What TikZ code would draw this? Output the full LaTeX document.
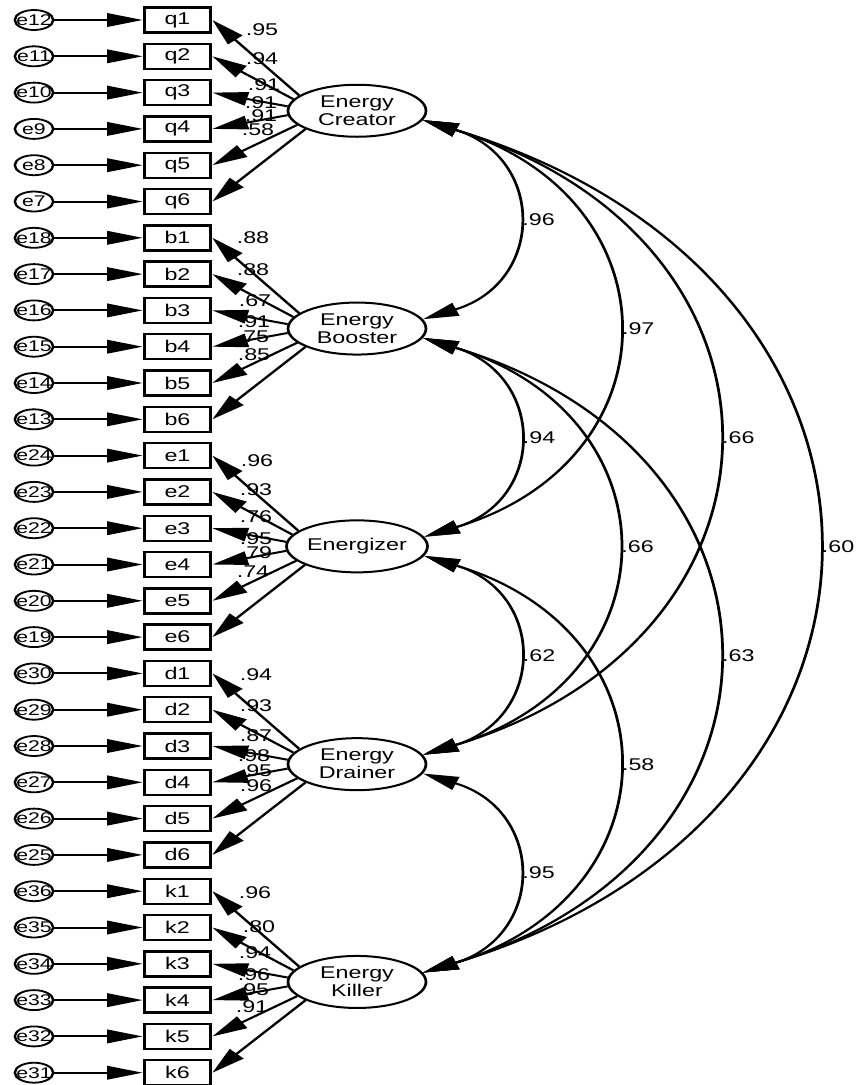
\documentclass[tikz,border=0pt]{standalone}
\usepackage{fontspec}
\setmainfont{Liberation Sans}
\usetikzlibrary{arrows.meta,shapes.geometric}
\newcommand\lblfont{\fontsize{17}{18}\selectfont}
\newcommand\errfont{\fontsize{15.5}{16}\selectfont}
\begin{document}
\begin{tikzpicture}[
  ind/.style={draw, rectangle, line width=2.4pt, minimum width=48.5pt, minimum height=25pt, inner sep=0pt, font=\lblfont},
  err/.style={draw, ellipse, line width=1.8pt, minimum width=28pt, minimum height=20pt, inner sep=0pt, font=\errfont},
  lat/.style={draw, ellipse, line width=2pt, minimum width=100.7pt, minimum height=52pt, inner sep=0pt, align=center, font=\lblfont},
  pathar/.style={line width=2pt, line join=miter, -{Triangle[length=26pt,width=13.5pt]}},
  cov/.style={line width=2pt, line join=miter, {Triangle[length=26pt,width=13.5pt]}-{Triangle[length=26pt,width=13.5pt]}},
  val/.style={font=\lblfont, inner sep=0pt},
]
\useasboundingbox (0pt,0pt) rectangle (858pt,-1085pt);
\begin{scope}[transform canvas={xscale=1.37}, x=0.729927pt, y=-1pt]
% indicators and error terms
\foreach \g/\p in {0/q,1/b,2/e,3/d,4/k}{
  \foreach \j in {1,...,6}{
    \pgfmathtruncatemacro\row{6*\g+\j-1}
    \pgfmathtruncatemacro\en{6*\g+13-\j}
    \pgfmathsetmacro\yy{20+36.3*\row}
    \node[ind] (\p\j) at (177.5,\yy) {\p\j};
    \node[err] (err\en) at (34,\yy) {\makebox[0pt]{e\en}};
    \draw[pathar] (err\en.east) -- (\p\j.west);
  }
}
% latent variables
\node[lat] (C) at (357,110.75) {Energy\\Creator};
\node[lat] (B) at (357,328.55) {Energy\\Booster};
\node[lat] (E) at (357,546.35) {Energizer};
\node[lat] (D) at (357,764.15) {Energy\\Drainer};
\node[lat] (K) at (357,981.95) {Energy\\Killer};
% loadings
\foreach \L/\p in {C/q,B/b,E/e,D/d,K/k}{
  \foreach \j/\a in {1/160,2/166,3/175,4/185,5/198,6/206}{
    \draw[pathar] (\L.\a) -- (\p\j.east);
  }
}
% loading values
\foreach \x/\y/\t [count=\c] in {
  262/30/.95, 262/59/.94, 264/85/.91, 261/103/.91, 261/116/.91, 258/130/.58,
  253/238/.88, 253/270/.88, 255/301/.67, 254/322/.91, 253/337/.75, 254/355/.85,
  257/461/.96, 256/490/.93, 256/517/.76, 256/539/.95, 256/553/.79, 253/572/.74,
  256/675/.94, 256/706/.93, 256/736/.87, 254/756/.98, 256/771/.95, 256/786/.96,
  255/893/.96, 259/927/.80, 255/953/.94, 254/975/.96, 253/990/.95, 252/1007/.91}{
  \node[val] (lv\c) at (\x,\y) {\t};
}
% covariances
\draw[cov] (C.-11) .. controls +(-22.4:96.7pt) and +(22.4:96.7pt) .. (B.11)
  node[val, pos=0.5, anchor=west, xshift=4.5pt] (r1) {.96};
\draw[cov] (B.-11) .. controls +(-22.4:96.7pt) and +(22.4:96.7pt) .. (E.11)
  node[val, pos=0.5, anchor=west, xshift=4.5pt] (r2) {.94};
\draw[cov] (E.-11) .. controls +(-22.4:96.7pt) and +(22.4:96.7pt) .. (D.11)
  node[val, pos=0.5, anchor=west, xshift=4.5pt] (r3) {.62};
\draw[cov] (D.-11) .. controls +(-22.4:96.7pt) and +(22.4:96.7pt) .. (K.11)
  node[val, pos=0.5, anchor=west, xshift=4.5pt] (r4) {.95};
\draw[cov] (C.-11) .. controls +(-22.4:201pt) and +(22.4:201pt) .. (E.11)
  node[val, pos=0.5, anchor=west, xshift=4.5pt] (r5) {.97};
\draw[cov] (B.-11) .. controls +(-22.4:201pt) and +(22.4:201pt) .. (D.11)
  node[val, pos=0.5, anchor=west, xshift=4.5pt] (r6) {.66};
\draw[cov] (E.-11) .. controls +(-22.4:201pt) and +(22.4:201pt) .. (K.11)
  node[val, pos=0.5, anchor=west, xshift=4.5pt] (r7) {.58};
\draw[cov] (C.-11) .. controls +(-22.4:307pt) and +(22.4:307pt) .. (D.11)
  node[val, pos=0.5, anchor=west, xshift=4.5pt] (r8) {.66};
\draw[cov] (B.-11) .. controls +(-22.4:307pt) and +(22.4:307pt) .. (K.11)
  node[val, pos=0.5, anchor=west, xshift=4.5pt] (r9) {.63};
\draw[cov] (C.-11) .. controls +(-22.4:412pt) and +(22.4:412pt) .. (K.11)
  node[val, pos=0.5, anchor=west, xshift=4.5pt] (r10) {.60};
\end{scope}
\end{tikzpicture}
\end{document}
